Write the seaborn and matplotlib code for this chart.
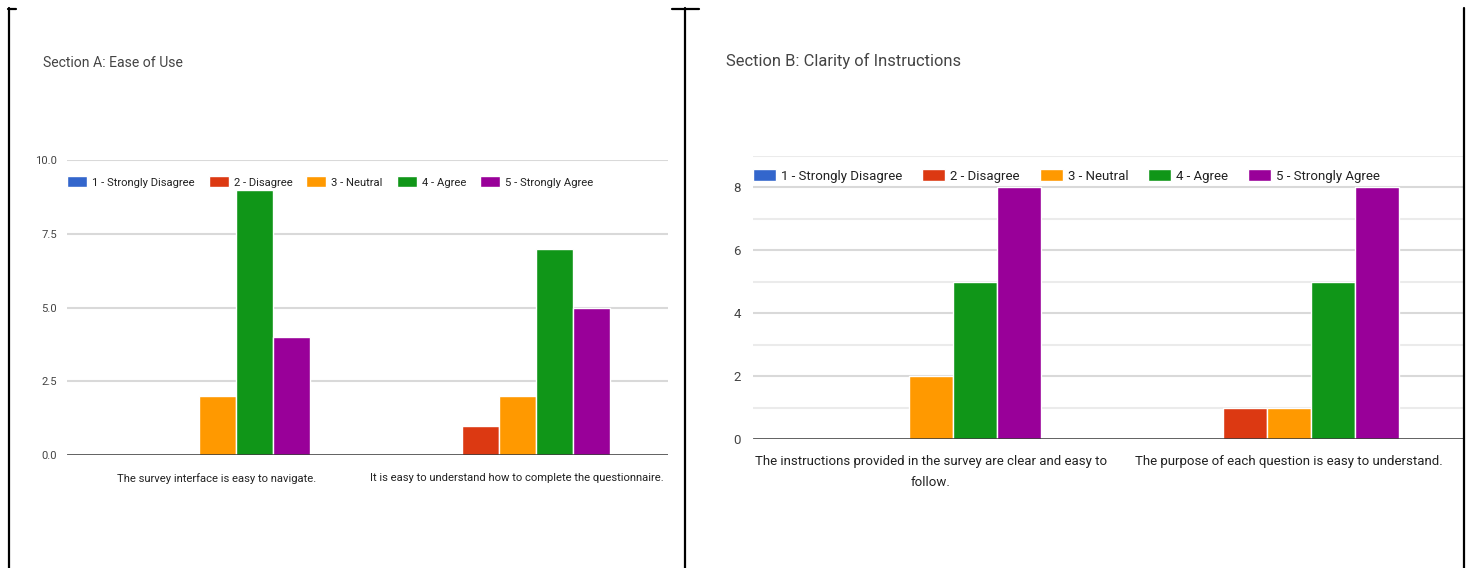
import matplotlib
matplotlib.use("Agg")
import matplotlib.pyplot as plt
from matplotlib import font_manager
from matplotlib.lines import Line2D
import pandas as pd
import seaborn as sns

# ---- data -------------------------------------------------------------
responses = ["1 - Strongly Disagree", "2 - Disagree", "3 - Neutral",
             "4 - Agree", "5 - Strongly Agree"]
colors = ["#3366CC", "#DC3912", "#FF9900", "#109618", "#990099"]

title_a = "Section A: Ease of Use"
questions_a = ["The survey interface is easy to navigate.",
               "It is easy to understand how to complete the questionnaire."]
strongly_disagree_a = [0, 0]
disagree_a = [0, 1]
neutral_a = [2, 2]
agree_a = [9, 7]
strongly_agree_a = [4, 5]

title_b = "Section B: Clarity of Instructions"
questions_b = ["The instructions provided in the survey are clear and easy to\nfollow.",
               "The purpose of each question is easy to understand."]
strongly_disagree_b = [0, 0]
disagree_b = [0, 1]
neutral_b = [2, 1]
agree_b = [5, 5]
strongly_agree_b = [8, 8]

yticks_a = [0.0, 2.5, 5.0, 7.5, 10.0]
yticks_b = [0, 2, 4, 6, 8]

# ---- fonts ------------------------------------------------------------
sns.set_theme(style="white")
installed = {f.name for f in font_manager.fontManager.ttflist}
if "Liberation Sans Narrow" in installed:
    FAMILY = ["Liberation Sans Narrow", "DejaVu Sans"]
    SCALE = 1.0
else:
    FAMILY = ["Roboto", "DejaVu Sans"]
    SCALE = 0.85
plt.rcParams["font.family"] = FAMILY

W, H = 1471, 568
fig = plt.figure(figsize=(W / 100, H / 100), dpi=100)
fig.patch.set_facecolor("white")


def px_axes(x0, x1, y_top, y_bot):
    return fig.add_axes([x0 / W, 1 - y_bot / H, (x1 - x0) / W, (y_bot - y_top) / H])


def long_frame(questions, series):
    rows = []
    for resp, vals in zip(responses, series):
        for q, v in zip(questions, vals):
            rows.append({"question": q, "response": resp, "count": v})
    return pd.DataFrame(rows)


def draw_panel(ax, questions, series, ylim, yticks, ytick_fmt, minor, fs, title,
               title_xy, legend_y, xlim, xpad, handle_px, colgap_px):
    fs_px = fs * 100 / 72
    df = long_frame(questions, series)
    sns.barplot(data=df, x="question", y="count", hue="response",
                hue_order=responses, order=questions,
                palette=dict(zip(responses, colors)), width=0.617,
                dodge=True, edgecolor="white", linewidth=1.0,
                saturation=1.0, errorbar=None, ax=ax, zorder=3)
    ax.set_xlim(*xlim)
    ax.set_ylim(*ylim)
    for s in ax.spines.values():
        s.set_visible(False)
    ax.set_xlabel("")
    ax.set_ylabel("")
    ax.set_yticks(yticks)
    ax.set_yticklabels([ytick_fmt.format(t) for t in yticks],
                       fontsize=fs, color="#444444")
    ax.tick_params(axis="y", length=0, pad=fs * 0.9)
    ax.tick_params(axis="x", length=0, pad=xpad * 72 / 100)
    for lab in ax.get_xticklabels():
        lab.set_fontsize(fs)
        lab.set_color("#222222")
        lab.set_multialignment("center")
        lab.set_linespacing(1.75)
    for t in yticks:
        if t != 0:
            ax.axhline(t, color="#d9d9d9", lw=1.5, zorder=1)
    for t in minor:
        ax.axhline(t, color="#ebebeb", lw=1.5, zorder=1)
    ax.axhline(0, color="#333333", lw=1.8, zorder=5)

    leg = ax.legend(loc="center left",
                    bbox_to_anchor=(0.0, legend_y), ncol=5, frameon=False,
                    fontsize=fs, handlelength=handle_px[0] / fs_px,
                    handleheight=handle_px[1] / fs_px,
                    handletextpad=5 / fs_px, columnspacing=colgap_px / fs_px,
                    borderpad=0, borderaxespad=0)
    for txt in leg.get_texts():
        txt.set_color("#222222")
    fig.text(title_xy[0] / W, 1 - title_xy[1] / H, title, fontsize=fs * 1.25,
             color="#444444", ha="left", va="center")


ax_a = px_axes(67, 668, 160, 455)
draw_panel(ax_a, questions_a,
           [strongly_disagree_a, disagree_a, neutral_a, agree_a, strongly_agree_a],
           (0, 10), yticks_a, "{:.1f}", [], 9.5 * SCALE, title_a, (43, 63),
           (455 - 182) / 295, (-0.5, 1.503), 18, (20, 12), 14)

ax_b = px_axes(753, 1465, 155.5, 439)
draw_panel(ax_b, questions_b,
           [strongly_disagree_b, disagree_b, neutral_b, agree_b, strongly_agree_b],
           (0, 9), yticks_b, "{:d}", [1, 3, 5, 7, 9], 11.2 * SCALE, title_b,
           (726, 61), (439 - 176) / 283.5, (-0.497, 1.492), 16, (23, 13), 20)

# table-cell border lines around the two charts
def seg(x0, y0, x1, y1):
    fig.add_artist(Line2D([x0 / W, x1 / W], [1 - y0 / H, 1 - y1 / H],
                          transform=fig.transFigure, color="black", lw=1.6))

seg(8.5, 8, 8.5, 568)
seg(8, 8.5, 16, 8.5)
seg(685, 8, 685, 568)
seg(672, 8.5, 699, 8.5)
seg(1464, 8, 1464, 568)

fig.savefig("out.png", dpi=100, facecolor="white")
